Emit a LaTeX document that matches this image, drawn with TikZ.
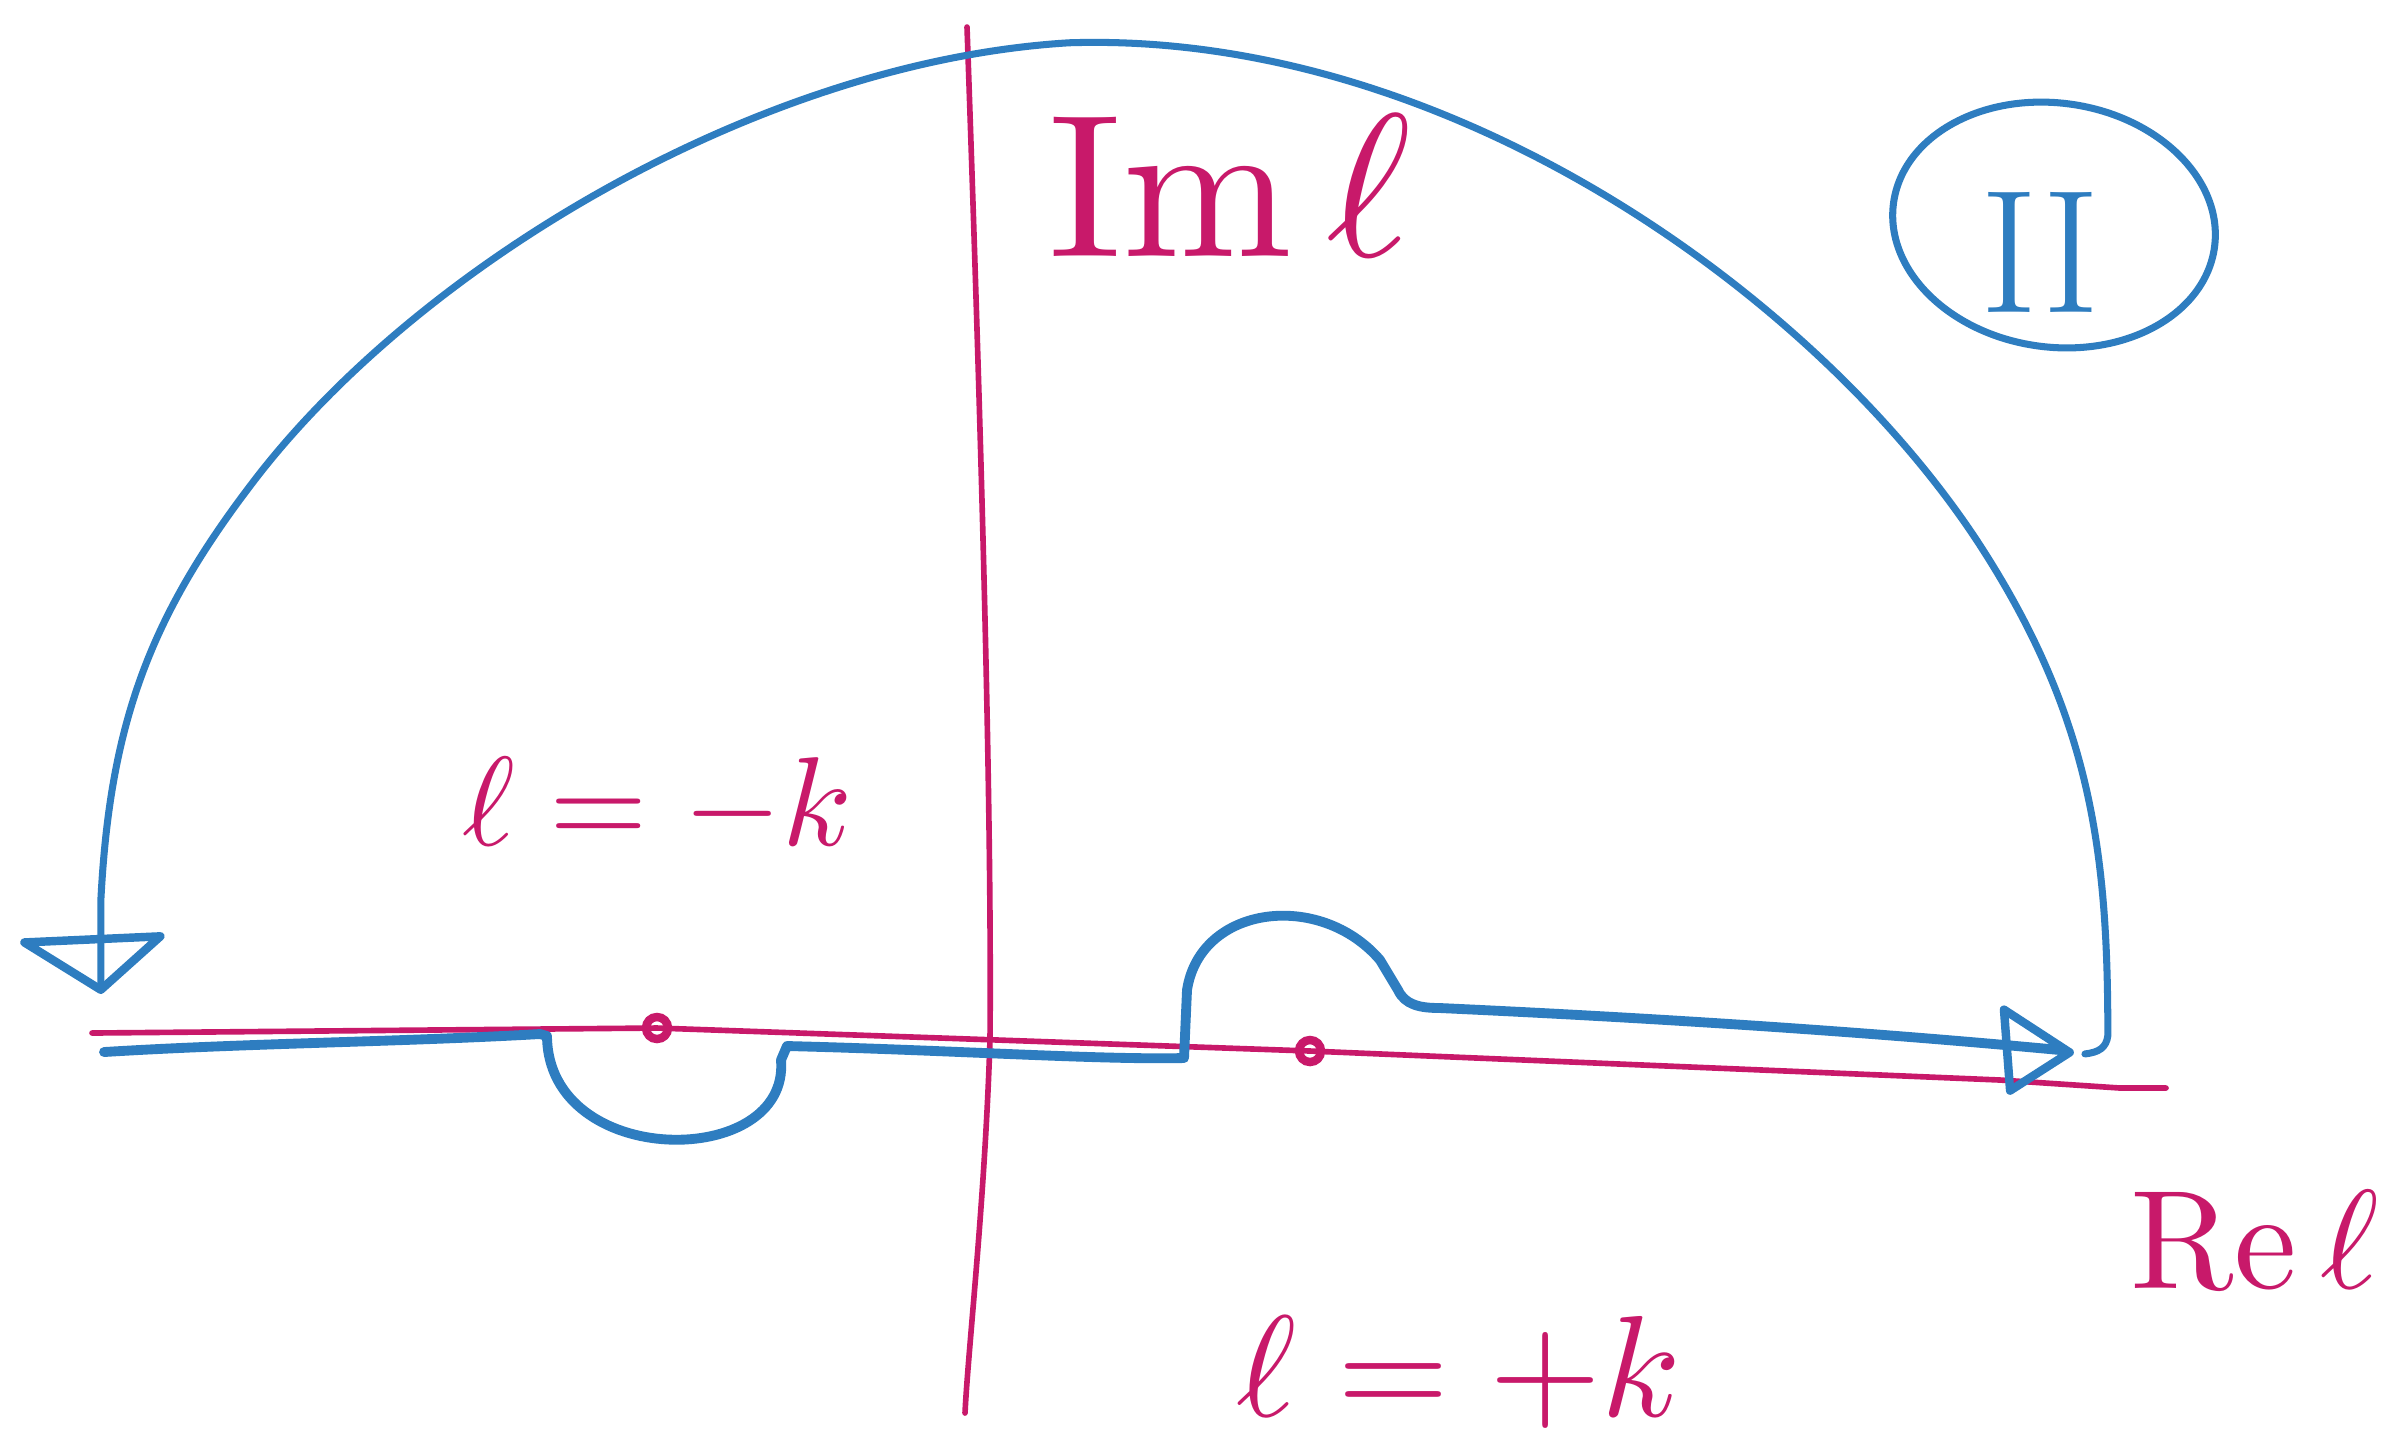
\documentclass[tikz,border=0pt]{standalone}
\usepackage{graphicx}
\usepackage{tikz}
\definecolor{pen}{RGB}{46,125,192}
\definecolor{ink}{RGB}{200,25,106}
\begin{document}
\begin{tikzpicture}[x=0.01cm,y=-0.01cm,
  axis/.style={draw=ink,line width=1.6pt,line cap=round,line join=round},
  contour/.style={draw=pen,line width=2.8pt,line cap=round,line join=round},
  arcline/.style={draw=pen,line width=2pt,line cap=round,line join=round},
  lbl/.style={text=ink,inner sep=0pt},
  pole/.style={draw=ink,line width=2.4pt,circle,minimum size=0.22cm,inner sep=0pt}]
\useasboundingbox[fill=white] (0,0) rectangle (2395,1450);
% axes
\draw[axis] (967,27) .. controls (980,400) and (992,800) .. (990,1039) .. controls (985,1200) and (968,1350) .. (965,1413);
\draw[axis] (92,1033) -- (657,1028) -- (1310,1051) -- (2000,1080) -- (2120,1088) -- (2166,1088);
% poles
\node[pole] (pm) at (657,1028) {};
\node[pole] (pp) at (1310,1051) {};
% big arc and arrowheads (drawn in reduced-scale units)
\begin{scope}[scale=1.5274]
\draw[arcline] (66,646) -- (66,590) .. controls (72,470) and (100,400) .. (170,310)
  .. controls (280,170) and (500,40) .. (700,28)
  .. controls (950,20) and (1190,195) .. (1295,355)
  .. controls (1370,470) and (1380,560) .. (1380,678)
  .. controls (1379,686) and (1374,689) .. (1365,690);
\draw[contour,line width=2.4pt] (16,617) -- (105,613) -- (66,648) -- cycle;
\draw[contour,line width=2.4pt] (1312,661) -- (1355,689) -- (1316,714) -- cycle;
\end{scope}
% bottom contour
\draw[contour] (104,1052) .. controls (250,1043) and (400,1042) .. (540,1034)
  -- (547,1036) .. controls (548,1170) and (790,1170) .. (781,1060) -- (787,1046)
  .. controls (950,1050) and (1100,1060) .. (1184,1058)
  -- (1187,990) .. controls (1200,905) and (1320,890) .. (1380,960)
  -- (1398,990) .. controls (1405,1005) and (1420,1008) .. (1440,1008)
  .. controls (1700,1020) and (1900,1035) .. (2060,1050);
% labels
\node[lbl] (im) at (1230,186) {\scalebox{5.8}{$\mathrm{Im}\,\ell$}};
\node[lbl] (lm) at (657,807) {\scalebox{3.6}{$\ell=-k$}};
\node[lbl] (lp) at (1459,1372) {\scalebox{4.1}{$\ell=+k$}};
\node[lbl] (re) at (2255,1240) {\scalebox{4.0}{$\mathrm{Re}\,\ell$}};
% region marker
\draw[draw=pen,line width=2pt,rotate around={-8:(2054,225)}] (2054,225) ellipse [x radius=162, y radius=122];
\node[text=pen,font=\fontsize{50}{50}\selectfont,inner sep=0pt] (reg) at (2040,252) {II};
\end{tikzpicture}
\end{document}
